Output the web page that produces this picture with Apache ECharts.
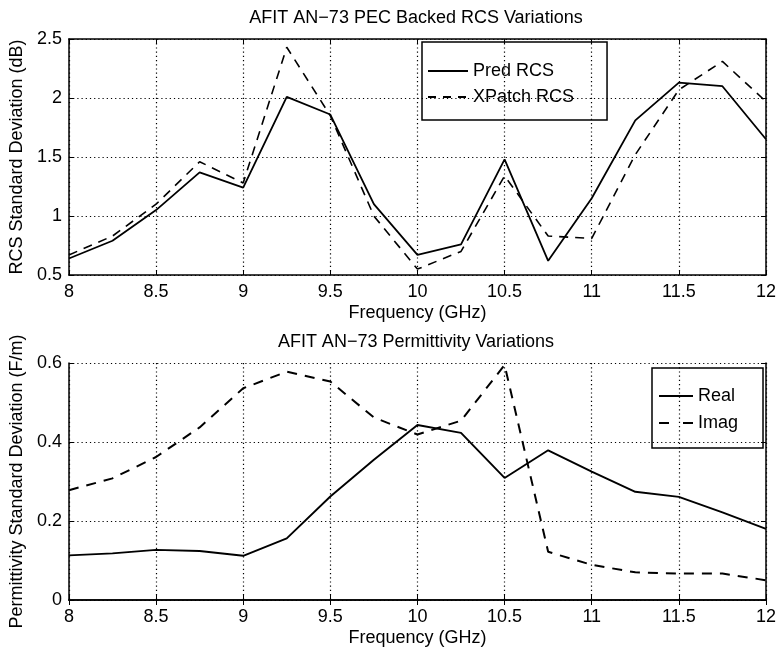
<!DOCTYPE html>
<html>
<head>
<meta charset="utf-8">
<script src="https://cdn.jsdelivr.net/npm/echarts@6/dist/echarts.min.js"></script>
<style>
html,body{margin:0;padding:0;background:#fff;}
#chart{width:779px;height:651px;}
</style>
</head>
<body>
<div id="chart"></div>
<script>
// ---- data ----
var freq = [8, 8.25, 8.5, 8.75, 9, 9.25, 9.5, 9.75, 10, 10.25, 10.5, 10.75, 11, 11.25, 11.5, 11.75, 12];
var predRCS   = [0.64, 0.79, 1.05, 1.37, 1.24, 2.01, 1.86, 1.10, 0.67, 0.76, 1.48, 0.62, 1.15, 1.81, 2.13, 2.10, 1.65];
var xpatchRCS = [0.67, 0.83, 1.10, 1.46, 1.28, 2.43, 1.85, 1.00, 0.55, 0.70, 1.34, 0.83, 0.81, 1.52, 2.07, 2.31, 1.97];
var realPerm  = [0.113, 0.118, 0.127, 0.124, 0.112, 0.156, 0.262, 0.355, 0.443, 0.423, 0.309, 0.379, 0.325, 0.274, 0.261, 0.222, 0.180];
var imagPerm  = [0.278, 0.308, 0.362, 0.437, 0.536, 0.578, 0.553, 0.462, 0.419, 0.454, 0.595, 0.122, 0.089, 0.070, 0.067, 0.067, 0.050];
var title1 = 'AFIT AN\u221273 PEC Backed RCS Variations';
var title2 = 'AFIT AN\u221273 Permittivity Variations';
var xName = 'Frequency (GHz)';
var yName1 = 'RCS Standard Deviation (dB)';
var yName2 = 'Permittivity Standard Deviation (F/m)';
var legend1 = ['Pred RCS', 'XPatch RCS'];
var legend2 = ['Real', 'Imag'];

function pairs(xs, ys){ return xs.map(function(x,i){ return [x, ys[i]]; }); }

var FONT = '"Liberation Sans", Arial, Helvetica, sans-serif';
var FS = 18;
// legend line-sample icons (filled paths)
var ICON_SOLID = 'path://M0,0H40V2H0Z';
var ICON_DASH1 = 'path://M0,0H8V1.8H0Z M15,0H23V1.8H15Z M30,0H38V1.8H30Z M40,0H40V1.8H40Z';
var ICON_SOLID2 = 'path://M0,0H34V2H0Z';
var ICON_DASH2 = 'path://M0,0H10V2.2H0Z M24,0H34V2.2H24Z';

function xAxisMain(gi){
  return {
    type:'value', gridIndex:gi, min:8, max:12, interval:0.5, position:'bottom',
    name:xName, nameLocation:'middle', nameGap:29,
    nameTextStyle:{color:'#000', fontSize:FS, fontFamily:FONT},
    axisLine:{show:true, lineStyle:{color:'#000', width:1.5}},
    axisTick:{show:true, inside:true, length:5, lineStyle:{color:'#000', width:1}},
    axisLabel:{color:'#000', fontSize:FS, fontFamily:FONT, margin:8},
    splitLine:{show:true, lineStyle:{color:'#000', width:1.2, type:[1.2,3]}}
  };
}
function xAxisTop(gi){
  return {
    type:'value', gridIndex:gi, min:8, max:12, interval:0.5, position:'top',
    axisLine:{show:true, lineStyle:{color:'#000', width:1.5}},
    axisTick:{show:true, inside:true, length:5, lineStyle:{color:'#000', width:1}},
    axisLabel:{show:false}, splitLine:{show:false}
  };
}
function yAxisMain(gi, min, max, step, name){
  return {
    type:'value', gridIndex:gi, min:min, max:max, interval:step, position:'left',
    name:name, nameLocation:'middle', nameGap:30, nameRotate:90,
    nameTextStyle:{color:'#000', fontSize:FS, fontFamily:FONT},
    axisLine:{show:true, lineStyle:{color:'#000', width:1.5}},
    axisTick:{show:true, inside:true, length:5, lineStyle:{color:'#000', width:1}},
    axisLabel:{color:'#000', fontSize:FS, fontFamily:FONT, margin:7},
    splitLine:{show:true, lineStyle:{color:'#000', width:1.2, type:[1.2,3]}}
  };
}
function yAxisRight(gi, min, max, step){
  return {
    type:'value', gridIndex:gi, min:min, max:max, interval:step, position:'right',
    axisLine:{show:true, lineStyle:{color:'#000', width:1.5}},
    axisTick:{show:true, inside:true, length:5, lineStyle:{color:'#000', width:1}},
    axisLabel:{show:false}, splitLine:{show:false}
  };
}

var chart = echarts.init(document.getElementById('chart'), null, {renderer:'canvas'});
chart.setOption({
  animation:false,
  backgroundColor:'#fff',
  title:[
    {text:title1, left:416, textAlign:'center', top:9, padding:0,
     textStyle:{color:'#000', fontSize:FS, fontWeight:'normal', fontFamily:FONT}},
    {text:title2, left:416, textAlign:'center', top:333, padding:0,
     textStyle:{color:'#000', fontSize:FS, fontWeight:'normal', fontFamily:FONT}}
  ],
  grid:[
    {left:65, top:39, width:702, height:236},
    {left:65, top:363, width:702, height:237}
  ],
  xAxis:[xAxisMain(0), xAxisTop(0), xAxisMain(1), xAxisTop(1)],
  yAxis:[yAxisMain(0,0.5,2.5,0.5,yName1), yAxisRight(0,0.5,2.5,0.5),
         yAxisMain(1,0,0.6,0.2,yName2), yAxisRight(1,0,0.6,0.2)],
  legend:[
    {data:[{name:legend1[0], icon:ICON_SOLID}, {name:legend1[1], icon:ICON_DASH1}],
     orient:'vertical', left:422, top:42, symbolKeepAspect:true,
     padding:[20,33,14,6], itemGap:8, itemWidth:40, itemHeight:14,
     itemStyle:{color:'#000', borderWidth:0},
     borderColor:'#000', borderWidth:1.5, backgroundColor:'rgba(0,0,0,0)',
     textStyle:{color:'#000', fontSize:FS, fontFamily:FONT}},
    {data:[{name:legend2[0], icon:ICON_SOLID2}, {name:legend2[1], icon:ICON_DASH2}],
     orient:'vertical', left:652, top:368, symbolKeepAspect:true,
     padding:[19,25,16,7], itemGap:9, itemWidth:34, itemHeight:14,
     itemStyle:{color:'#000', borderWidth:0},
     borderColor:'#000', borderWidth:1.5, backgroundColor:'rgba(0,0,0,0)',
     textStyle:{color:'#000', fontSize:FS, fontFamily:FONT}}
  ],
  series:[
    {name:legend1[0], type:'line', xAxisIndex:0, yAxisIndex:0, symbol:'none',
     data:pairs(freq, predRCS), lineStyle:{color:'#000', width:1.8, type:'solid'}, itemStyle:{color:'#000'}},
    {name:legend1[1], type:'line', xAxisIndex:0, yAxisIndex:0, symbol:'none',
     data:pairs(freq, xpatchRCS), lineStyle:{color:'#000', width:1.6, type:[9,7]}, itemStyle:{color:'#000'}},
    {name:legend2[0], type:'line', xAxisIndex:2, yAxisIndex:2, symbol:'none',
     data:pairs(freq, realPerm), lineStyle:{color:'#000', width:1.9, type:'solid'}, itemStyle:{color:'#000'}},
    {name:legend2[1], type:'line', xAxisIndex:2, yAxisIndex:2, symbol:'none',
     data:pairs(freq, imagPerm), lineStyle:{color:'#000', width:2, type:[10,8]}, itemStyle:{color:'#000'}}
  ]
});
</script>
</body>
</html>
